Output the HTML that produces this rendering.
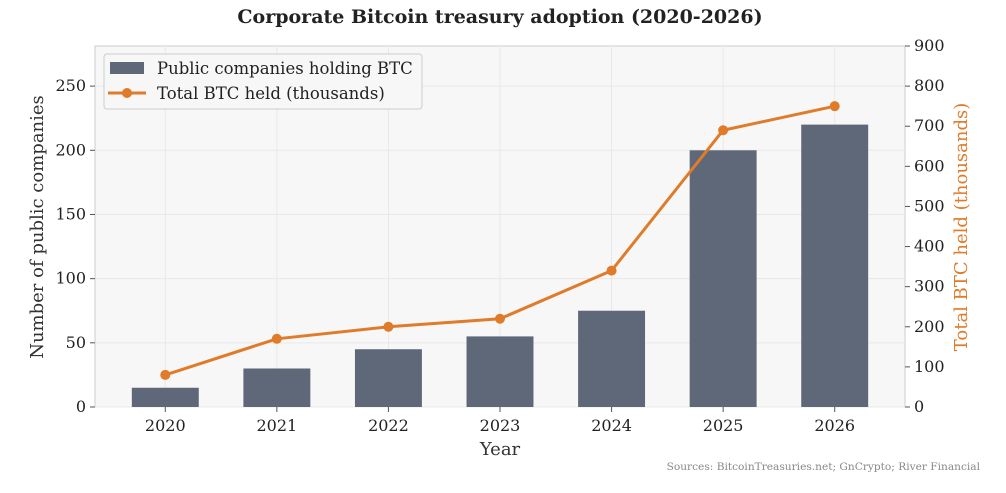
<!DOCTYPE html>
<html><head><meta charset="utf-8"><style>
body{margin:0;background:#fff;}
svg text{font-family:"DejaVu Serif","Liberation Serif",serif;}
</style></head><body>
<svg id="chart" width="1006" height="488" viewBox="0 0 1006 488" xmlns="http://www.w3.org/2000/svg">
<text x="500" y="23" text-anchor="middle" font-size="19" font-weight="bold" fill="#222">Corporate Bitcoin treasury adoption (2020-2026)</text>
<rect x="95" y="46" width="810" height="361" fill="#f7f7f7" stroke="#ccc" stroke-width="1"/>
<g id="grid"></g><g id="bars"></g><g id="line"></g><g id="axes"></g>
<text x="500" y="455" text-anchor="middle" font-size="18" fill="#333">Year</text>
<text transform="translate(43,227) rotate(-90)" text-anchor="middle" font-size="18" fill="#333">Number of public companies</text>
<text transform="translate(967,227) rotate(-90)" text-anchor="middle" font-size="18" fill="#e07b2a">Total BTC held (thousands)</text>
<text x="980" y="470" text-anchor="end" font-size="10.6" fill="#888">Sources: BitcoinTreasuries.net; GnCrypto; River Financial</text>
<g>
<rect x="104" y="54" width="318" height="55" rx="3" fill="#f7f7f7" stroke="#ccc"/>
<rect x="110" y="62" width="34" height="12" fill="#5f6878"/>
<text x="157" y="74" font-size="16.5" fill="#222">Public companies holding BTC</text>
<line x1="108" y1="93" x2="146" y2="93" stroke="#e07b2a" stroke-width="3"/>
<circle cx="127" cy="93" r="5" fill="#e07b2a"/>
<text x="157" y="99" font-size="16.5" fill="#222">Total BTC held (thousands)</text>
</g>
</svg>
<script>
const years=["2020","2021","2022","2023","2024","2025","2026"];
const companies=[15,30,45,55,75,200,220];
const btcHeld=[80,170,200,220,340,690,750];
const leftTicks=[0,50,100,150,200,250];
const rightTicks=[0,100,200,300,400,500,600,700,800,900];
const NS="http://www.w3.org/2000/svg";
const L=95,R=905,T=46,B=407;
const xs=i=>L+(i+0.63)/(7.26)*(R-L);
const yl=v=>B-v/281.25*(B-T);
const yr=v=>B-v/900*(B-T);
function mk(tag,attrs,parent,txt){const e=document.createElementNS(NS,tag);for(const k in attrs)e.setAttribute(k,attrs[k]);if(txt!==undefined)e.textContent=txt;document.getElementById(parent).appendChild(e);return e;}
const bw=0.6/7.26*(R-L);
leftTicks.forEach(v=>{
 const g=mk('line',{x1:L,x2:R,y1:yl(v),y2:yl(v),stroke:'#e8e8e8','stroke-width':1},'grid');
 
 
 mk('line',{x1:L-5,x2:L,y1:yl(v),y2:yl(v),stroke:'#555'},'axes');
 const t=mk('text',{x:L-9,y:yl(v)+5,'text-anchor':'end','font-size':16,fill:'#222'},'axes',v);
 
 
});
rightTicks.forEach(v=>{
 mk('line',{x1:R,x2:R+5,y1:yr(v),y2:yr(v),stroke:'#555'},'axes');
 const t=mk('text',{x:R+9,y:yr(v)+5,'font-size':16,fill:'#222'},'axes',v);
 
 
});
years.forEach((y,i)=>{
 const g=mk('line',{x1:xs(i),x2:xs(i),y1:T,y2:B,stroke:'#e8e8e8'},'grid');
 
 
 const b=mk('rect',{x:xs(i)-bw/2,y:yl(companies[i]),width:bw,height:B-yl(companies[i]),fill:'#5f6878'},'bars');
 
 
 mk('line',{x1:xs(i),x2:xs(i),y1:B,y2:B+5,stroke:'#555'},'axes');
 const t=mk('text',{x:xs(i),y:B+24,'text-anchor':'middle','font-size':16,fill:'#222'},'axes',y);
 
 
});
const pl=mk('polyline',{points:btcHeld.map((v,i)=>xs(i)+','+yr(v)).join(' '),fill:'none',stroke:'#e07b2a','stroke-width':3,'stroke-linejoin':'round'},'line');


btcHeld.forEach((v,i)=>{
 const c=mk('circle',{cx:xs(i),cy:yr(v),r:5,fill:'#e07b2a'},'line');
 
 
});
</script>
</body></html>
